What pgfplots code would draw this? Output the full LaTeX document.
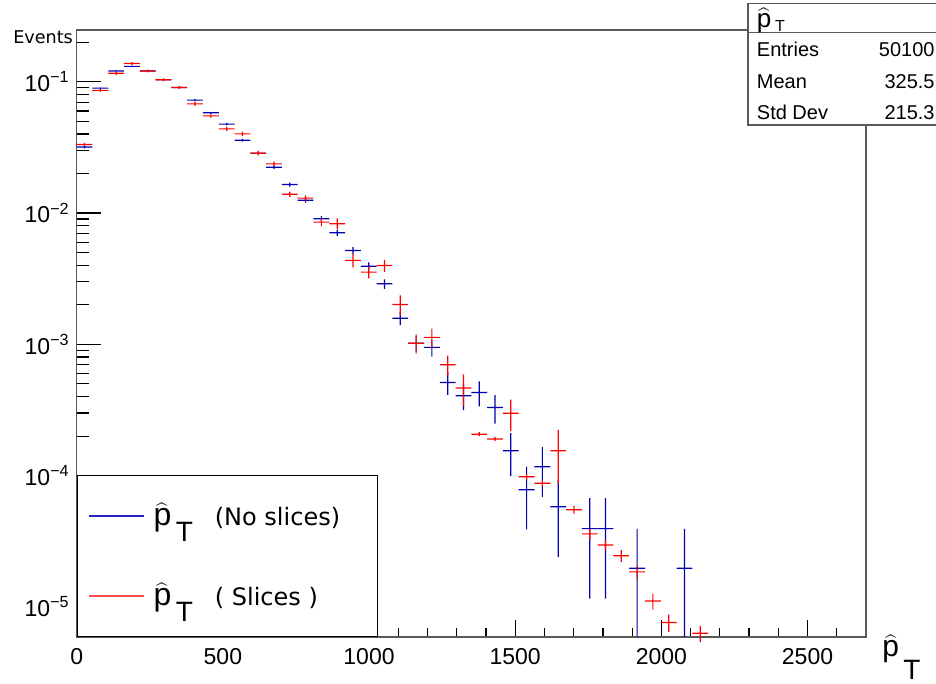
\documentclass[border=0pt]{standalone}
\usepackage{pgfplots}
\usepackage{pgfplotstable}
\pgfplotsset{compat=1.18}
\usepackage{fontspec}
\setmainfont{Liberation Sans}
\newfontfamily\dejavu{DejaVu Sans}
\definecolor{hblue}{rgb}{0,0,0.7}
\definecolor{hred}{rgb}{1,0,0}
\definecolor{framec}{gray}{0.35}
\newcommand{\phatT}[3]{{\fontsize{#1}{#1}\selectfont$\widehat{\mbox{p}}$\kern0.14em\raisebox{-#3}{\fontsize{#2}{#2}\selectfont T}}}
\newcommand{\statfont}{\fontsize{10pt}{12pt}\selectfont}
% one decade of the log axis = 65.64pt; half bin width = 3.95pt
\makeatletter
\newcommand{\histcross}{%
  \pgfmathsetmacro\uplen{65.64*log10(1+\ru)}%
  \pgfmathsetmacro\dnlen{-65.64*log10(1-\rd)}%
  \pgfpathrectangle{\pgfqpoint{-3.95pt}{-0.3pt}}{\pgfqpoint{7.9pt}{0.6pt}}%
  \pgfpathrectangle{\pgfpoint{-0.3pt}{-\dnlen pt}}{\pgfpoint{0.6pt}{\uplen pt+\dnlen pt}}%
  \pgfusepathqfill}
\pgfdeclareplotmark{crossB}{\pgfsetfillcolor{hblue}\pgfsysprotocol@literal{0 0 0.7 rg}\histcross}
\pgfdeclareplotmark{crossR}{\pgfsetfillcolor{hred}\pgfsysprotocol@literal{1 0 0 rg}\histcross}
\makeatother

% x = bin centre, y = content, ru / rd = relative error up / down
\pgfplotstableread{
x y ru rd
27 0.0319 0.0251 0.0251
81 0.0895 0.0150 0.0150
135 0.121 0.0129 0.0129
189 0.131 0.0124 0.0124
243 0.121 0.0129 0.0129
297 0.1036 0.0139 0.0139
351 0.0906 0.0149 0.0149
405 0.0725 0.0166 0.0166
459 0.058 0.0186 0.0186
513 0.0476 0.0206 0.0206
567 0.0359 0.0237 0.0237
621 0.0286 0.0266 0.0266
675 0.0223 0.0300 0.0300
729 0.0165 0.0345 0.0345
783 0.0125 0.040 0.040
837 0.00906 0.0475 0.0475
891 0.00708 0.0537 0.0537
945 0.00519 0.0617 0.0617
999 0.00394 0.0711 0.0711
1053 0.00289 0.083 0.083
1107 0.00158 0.114 0.114
1161 0.00102 0.137 0.137
1215 0.000948 0.148 0.148
1269 0.000513 0.195 0.195
1323 0.000406 0.222 0.222
1377 0.00043 0.216 0.216
1431 0.00033 0.245 0.245
1485 0.000155 0.361 0.361
1539 7.8e-5 0.50 0.50
1593 0.000117 0.41 0.41
1647 5.8e-5 0.586 0.586
1755 3.95e-5 0.707 0.707
1809 3.95e-5 0.707 0.707
1917 1.97e-5 1.0 0.70
2079 1.97e-5 1.0 0.70
}\bluetab

\pgfplotstableread{
x y ru rd
27 0.0333 0.025 0.025
81 0.086 0.0244 0.0244
135 0.116 0.025 0.025
189 0.138 0.0246 0.0246
243 0.121 0.0248 0.0248
297 0.1036 0.025 0.025
351 0.0906 0.0254 0.0254
405 0.0679 0.035 0.035
459 0.055 0.035 0.035
513 0.0438 0.034 0.034
567 0.0401 0.040 0.040
621 0.0286 0.040 0.040
675 0.0237 0.040 0.040
729 0.0139 0.050 0.050
783 0.0130 0.050 0.050
837 0.00853 0.070 0.070
891 0.0083 0.096 0.096
945 0.00436 0.117 0.117
999 0.00355 0.104 0.104
1053 0.00399 0.105 0.105
1107 0.00201 0.174 0.174
1161 0.00102 0.167 0.167
1215 0.00113 0.168 0.168
1269 0.0007 0.171 0.171
1323 0.000465 0.27 0.27
1377 0.000207 0.034 0.034
1431 0.00019 0.037 0.037
1485 0.000299 0.268 0.268
1539 9.8e-5 0.051 0.051
1593 8.75e-5 0.057 0.057
1647 0.000155 0.44 0.44
1701 5.5e-5 0.065 0.065
1755 3.6e-5 0.089 0.089
1809 2.96e-5 0.088 0.088
1863 2.45e-5 0.106 0.106
1917 1.85e-5 0.119 0.119
1971 1.11e-5 0.14 0.14
2025 7.6e-6 0.15 0.15
2133 6.3e-6 0.14 0.14
}\redtab

\begin{document}
\begin{tikzpicture}
\useasboundingbox (-38.35pt,-23.5pt) rectangle (429.65pt,318.5pt);
% x axis (frame, x ticks, x labels)
\begin{axis}[
  at={(0pt,0pt)}, anchor=south west, scale only axis,
  width=394.65pt, height=303.5pt,
  xmin=0, xmax=2700, ymin=0, ymax=1,
  ytick=\empty,
  xtick={0,500,1000,1500,2000,2500},
  xticklabels={0,500,1000,1500,2000,2500},
  minor xtick={100,200,300,400,600,700,800,900,1100,1200,1300,1400,1600,1700,1800,1900,2100,2200,2300,2400,2600},
  xtick pos=left, tick align=inside,
  major tick length=8.5pt, minor tick length=4.5pt,
  axis line style={framec, line width=0.6pt},
  tick style={black, line width=0.6pt},
  xticklabel style={font=\fontsize{11.5pt}{13pt}\selectfont, yshift=-2.3pt},
  xlabel={\phatT{15pt}{14pt}{11.6pt}},
  every axis x label/.style={at={(axis description cs:1,0)}, anchor=base west, inner sep=0pt, xshift=8pt, yshift=-9.85pt},
]
\end{axis}
% y axis, data, legend
\begin{axis}[
  at={(0pt,0pt)}, anchor=south west, scale only axis,
  width=394.65pt, height=303.5pt,
  xmin=0, xmax=2700, ymode=log, ymin=5.9e-6, ymax=0.248,
  xtick=\empty,
  ytick={1e-5,1e-4,1e-3,1e-2,1e-1},
  yticklabels={10\textsuperscript{−5},10\textsuperscript{−4},10\textsuperscript{−3},10\textsuperscript{−2},10\textsuperscript{−1}},
  minor ytick={6e-6,7e-6,8e-6,9e-6,2e-5,3e-5,4e-5,5e-5,6e-5,7e-5,8e-5,9e-5,2e-4,3e-4,4e-4,5e-4,6e-4,7e-4,8e-4,9e-4,2e-3,3e-3,4e-3,5e-3,6e-3,7e-3,8e-3,9e-3,2e-2,3e-2,4e-2,5e-2,6e-2,7e-2,8e-2,9e-2,2e-1},
  ytick pos=left, tick align=inside,
  major tick length=12pt, minor tick length=6pt,
  axis line style={framec, line width=0.6pt},
  tick style={black, line width=0.6pt},
  yticklabel style={font=\fontsize{11.5pt}{13pt}\selectfont},
  ylabel={Events},
  every axis y label/.style={at={(axis description cs:0,1)}, anchor=base east, inner sep=0pt, xshift=-1.7pt, yshift=-6.7pt, font=\dejavu\fontsize{8.8pt}{10pt}\selectfont},
  legend style={at={(0,0)}, anchor=south west, draw=black, line width=0.6pt, fill=white,
    inner xsep=6pt, inner ysep=0.3pt, row sep=0pt, column sep=5pt,
    nodes={inner sep=0pt, minimum height=40pt}},
  legend cell align=left,
]
\addplot[scatter, only marks, draw=none, mark=crossB, forget plot,
  visualization depends on={\thisrow{ru} \as \ru},
  visualization depends on={\thisrow{rd} \as \rd},
  scatter/@pre marker code/.code={\pgfscope},
  scatter/@post marker code/.code={\endpgfscope}]
  table[x=x, y=y] {\bluetab};
\addplot[scatter, only marks, draw=none, mark=crossR, forget plot,
  visualization depends on={\thisrow{ru} \as \ru},
  visualization depends on={\thisrow{rd} \as \rd},
  scatter/@pre marker code/.code={\pgfscope},
  scatter/@post marker code/.code={\endpgfscope}]
  table[x=x, y=y] {\redtab};
\addlegendimage{legend image code/.code={\fill[hblue!85!white] (0pt,-0.2pt) rectangle (26.5pt,0.2pt);}}
\addlegendentry{\makebox[106pt][l]{\phatT{16pt}{14pt}{8pt}\hspace{11pt}{\dejavu\fontsize{12pt}{14pt}\selectfont(No slices)}}}
\addlegendimage{legend image code/.code={\fill[hred!70!white] (0pt,-0.2pt) rectangle (26.5pt,0.2pt);}}
\addlegendentry{\makebox[106pt][l]{\phatT{16pt}{14pt}{8pt}\hspace{11pt}{\dejavu\fontsize{12pt}{14pt}\selectfont( Slices )}}}
\end{axis}
% statistics box
\draw[framec, line width=0.6pt, fill=white] (335.65pt,256pt) rectangle (445pt,316.85pt);
\draw[framec, line width=0.6pt] (335.65pt,302.35pt) -- (445pt,302.35pt);
\node[anchor=base west, inner sep=0pt] at (339.9pt,304.6pt) {\phatT{13pt}{8pt}{2pt}};
\node[anchor=base west, inner sep=0pt] at (339.9pt,290.15pt) {\statfont Entries};
\node[anchor=base east, inner sep=0pt] at (429.15pt,290.15pt) {\statfont 50100};
\node[anchor=base west, inner sep=0pt] at (339.9pt,274.35pt) {\statfont Mean};
\node[anchor=base east, inner sep=0pt] at (429.15pt,274.35pt) {\statfont 325.5};
\node[anchor=base west, inner sep=0pt] at (339.9pt,258.85pt) {\statfont Std Dev};
\node[anchor=base east, inner sep=0pt] at (429.15pt,258.85pt) {\statfont 215.3};
\end{tikzpicture}
\end{document}
